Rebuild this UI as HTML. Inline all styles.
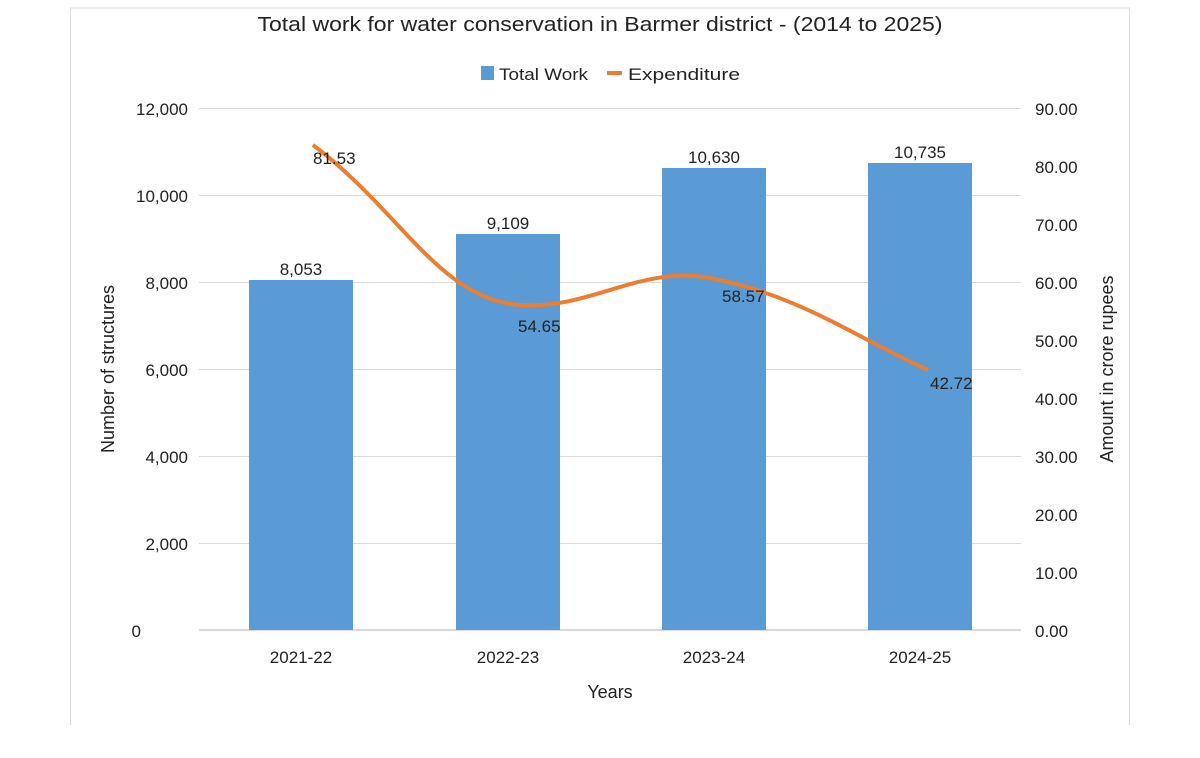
<!DOCTYPE html>
<html><head><meta charset="utf-8"><style>
body{margin:0;background:#fff;}
svg text{font-family:"Liberation Sans",sans-serif;fill:#222;}
</style></head><body>
<svg width="1200" height="753" xmlns="http://www.w3.org/2000/svg">
<rect width="1200" height="753" fill="#fff"/>
<line x1="70" y1="8" x2="1130" y2="8" stroke="#ddd"/>
<line x1="70.5" y1="8" x2="70.5" y2="725" stroke="#ddd"/>
<line x1="1129.5" y1="8" x2="1129.5" y2="725" stroke="#ddd"/>
<text x="600" y="31" font-size="20" text-anchor="middle" textLength="685" lengthAdjust="spacingAndGlyphs">Total work for water conservation in Barmer district - (2014 to 2025)</text>
<rect x="481" y="66" width="13" height="14" fill="#5b9bd5"/>
<text x="499" y="80" font-size="17" textLength="89" lengthAdjust="spacingAndGlyphs">Total Work</text>
<line x1="607" y1="73" x2="622" y2="73" stroke="#ed7d31" stroke-width="4"/>
<text x="628" y="80" font-size="17" textLength="112" lengthAdjust="spacingAndGlyphs">Expenditure</text>
<g stroke="#d9d9d9" stroke-width="1">
<line x1="199" y1="108.5" x2="1021" y2="108.5"/>
<line x1="199" y1="195.5" x2="1021" y2="195.5"/>
<line x1="199" y1="282.5" x2="1021" y2="282.5"/>
<line x1="199" y1="369.5" x2="1021" y2="369.5"/>
<line x1="199" y1="456.5" x2="1021" y2="456.5"/>
<line x1="199" y1="543.5" x2="1021" y2="543.5"/>
<line x1="199" y1="630" x2="1021" y2="630" stroke-width="2"/>
</g>
<g font-size="17" text-anchor="end">
<text x="188" y="115">12,000</text><text x="188" y="202">10,000</text>
<text x="188" y="289">8,000</text><text x="188" y="376">6,000</text>
<text x="188" y="463">4,000</text><text x="188" y="550">2,000</text>
<text x="141" y="637">0</text>
</g>
<g font-size="17">
<text x="1035" y="115">90.00</text><text x="1035" y="173">80.00</text>
<text x="1035" y="231">70.00</text><text x="1035" y="289">60.00</text>
<text x="1035" y="347">50.00</text><text x="1035" y="405">40.00</text>
<text x="1035" y="463">30.00</text><text x="1035" y="521">20.00</text>
<text x="1035" y="579">10.00</text><text x="1035" y="637">0.00</text>
</g>
<g fill="#5b9bd5">
<rect x="249" y="280" width="104" height="350"/>
<rect x="456" y="234" width="104" height="396"/>
<rect x="662" y="168" width="104" height="462"/>
<rect x="868" y="163" width="104" height="467"/>
</g>
<g font-size="17" text-anchor="middle">
<text x="301" y="275">8,053</text><text x="508" y="229">9,109</text>
<text x="714" y="163">10,630</text><text x="920" y="158">10,735</text>
<text x="301" y="663">2021-22</text><text x="508" y="663">2022-23</text>
<text x="714" y="663">2023-24</text><text x="920" y="663">2024-25</text>
<text x="610" y="698" font-size="18">Years</text>
</g>
<path d="M313,145 C400,210 440,300 520,305 C590,310 640,265 710,278 C800,295 860,340 928,370" fill="none" stroke="#ed7d31" stroke-width="4"/>
<g font-size="17">
<text x="313" y="164">81.53</text><text x="518" y="332">54.65</text>
<text x="722" y="302">58.57</text><text x="930" y="389">42.72</text>
</g>
<text transform="translate(114,369) rotate(-90)" font-size="18" text-anchor="middle">Number of structures</text>
<text transform="translate(1113,369) rotate(-90)" font-size="18" text-anchor="middle">Amount in crore rupees</text>
</svg>
</body></html>
